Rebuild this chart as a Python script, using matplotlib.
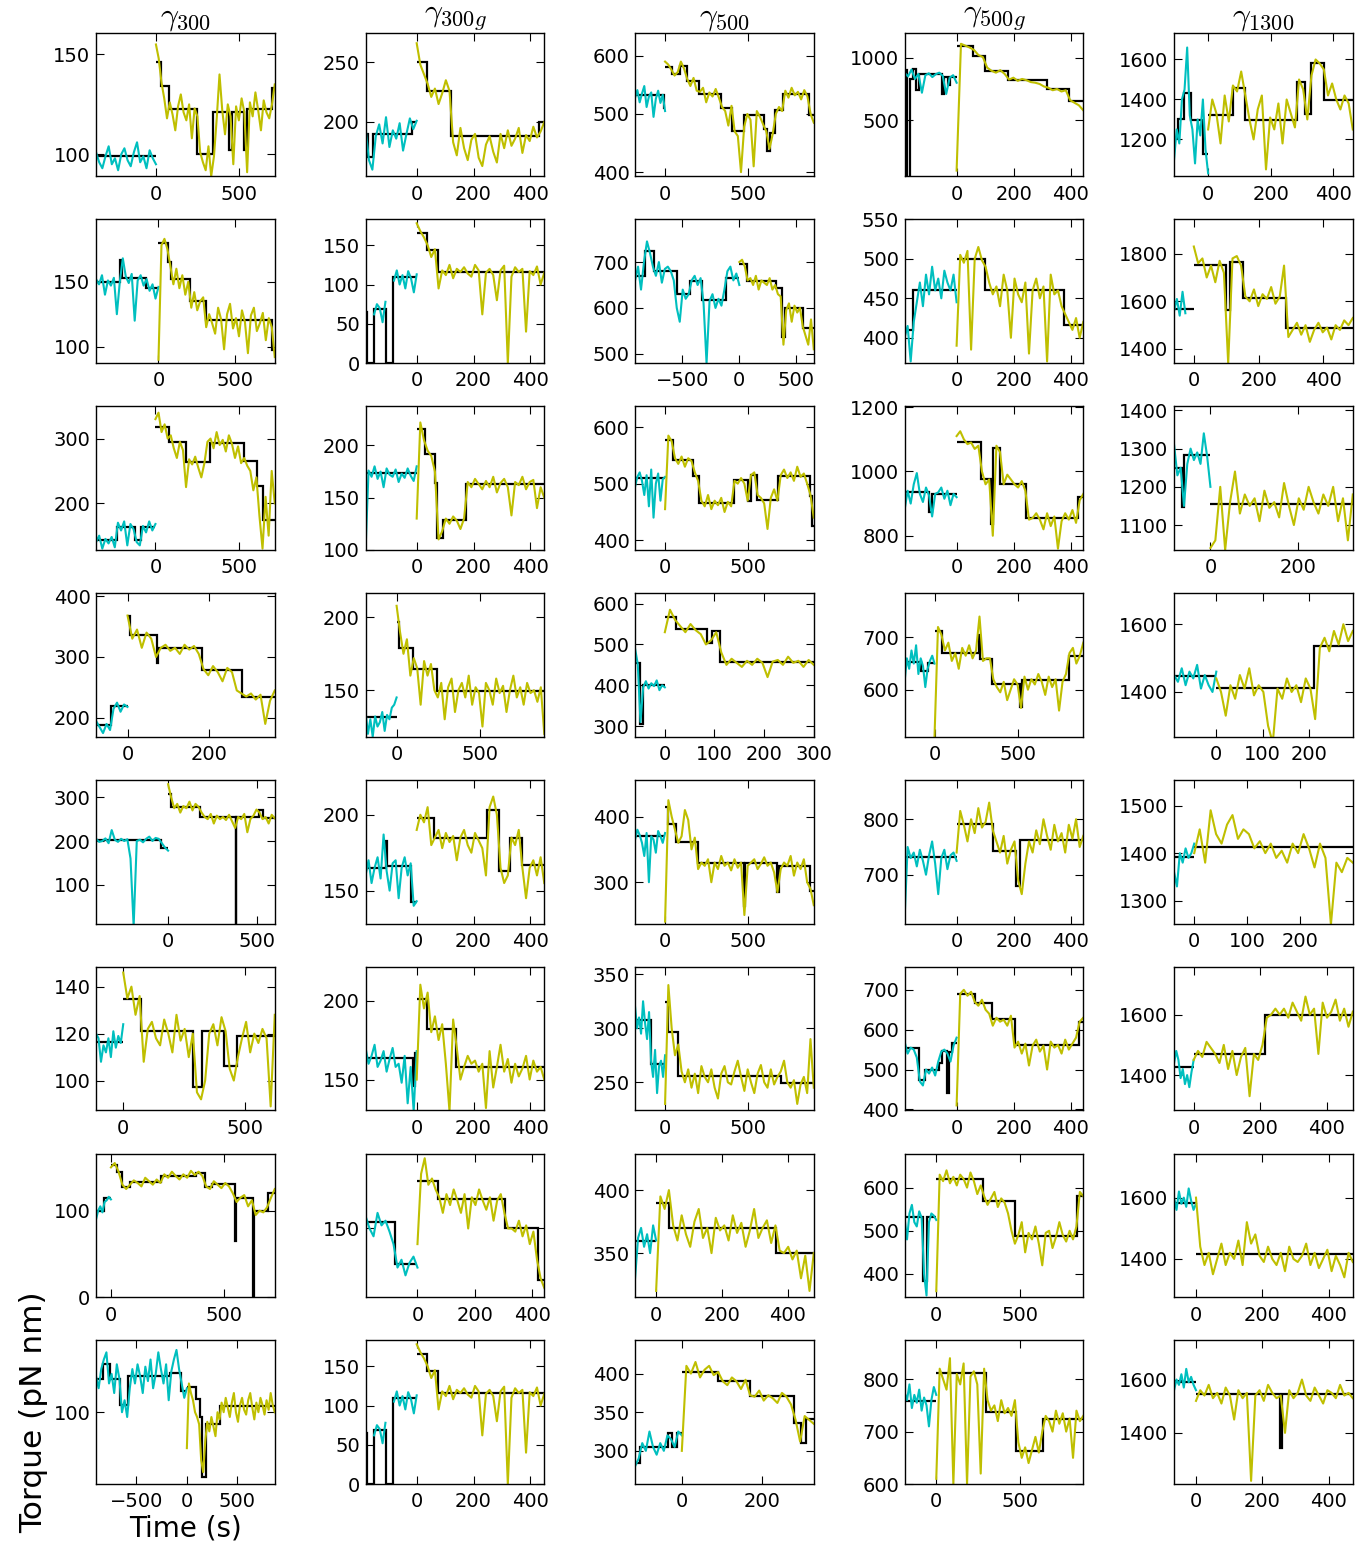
import numpy as np
import matplotlib
matplotlib.use("Agg")
import matplotlib.pyplot as plt

nan = np.nan

titles = [r"$\gamma_{300}$", r"$\gamma_{300g}$", r"$\gamma_{500}$", r"$\gamma_{500g}$", r"$\gamma_{1300}$"]

# Per panel: step-fit edges/levels and torque trace, before (pre) and after (post) t = 0.
# Trace samples are evenly spread between the first and last fit edge.

# ---------- row 1 ----------
r1c1_pre_edges = [-359, 0]
r1c1_pre_levels = [99]
r1c1_pre_trace = [101, 96, 93, 99, 104, 95, 98, 92, 100, 103, 97, 94, 101, 106, 96, 99, 93, 102, 98, 95]
r1c1_post_edges = [0, 29, 79, 249, 340, 437, 458, 526, 545, 694, 712]
r1c1_post_levels = [146, 134, 122.5, 100, 121, 102, 121, 102, 122.5, 133]
r1c1_post_trace = [155, 148, 136, 128, 118, 126, 120, 112, 124, 130, 121, 117, 125, 108, 123, 119, 101, 96, 92, 104,
                   89, 99, 118, 140, 122, 110, 125, 119, 95, 124, 117, 128, 121, 91, 126, 119, 131, 122, 112, 127,
                   121, 118, 125, 135]

r1c2_pre_edges = [-180, -171, -155, -17, 0]
r1c2_pre_levels = [190, 171, 189.6, 200]
r1c2_pre_trace = [195, 168, 160, 188, 198, 182, 204, 179, 193, 186, 199, 176, 190, 203, 194, 201]
r1c2_post_edges = [0, 35, 121, 429, 449]
r1c2_post_levels = [250, 226, 188, 200]
r1c2_post_trace = [266, 248, 240, 232, 221, 228, 215, 224, 235, 226, 183, 172, 195, 178, 168, 185, 190, 170, 163, 181,
                   188, 175, 166, 190, 178, 193, 180, 186, 195, 174, 189, 184, 196, 187, 192, 200]

r1c3_pre_edges = [-180, -8, 0]
r1c3_pre_levels = [532, 510]
r1c3_pre_trace = [528, 541, 520, 535, 548, 512, 530, 537, 495, 526, 540, 519, 533, 505]
r1c3_post_edges = [0, 42, 90, 133, 204, 336, 402, 476, 596, 614, 632, 660, 707, 861, 892]
r1c3_post_levels = [580, 569, 583, 557, 534, 510, 471, 498, 475, 436, 468, 507, 535, 498]
r1c3_post_trace = [590, 585, 576, 566, 572, 590, 578, 560, 548, 562, 540, 538, 545, 520, 537, 530, 543, 528, 512, 505,
                   480, 514, 470, 462, 400, 478, 500, 490, 410, 505, 495, 482, 470, 440, 465, 500, 512, 505, 540, 528,
                   545, 532, 538, 525, 541, 530, 500, 485]

r1c4_pre_edges = [-182, -172, -162, -151, -142, -131, -51, -43, -31, -23, 0]
r1c4_pre_levels = [899, 0, 833, 912, 740, 867, 713, 846, 780, 846]
r1c4_pre_trace = [880, 850, 905, 830, 870, 720, 860, 875, 845, 868, 880, 855, 710, 840, 860, 800]
r1c4_post_edges = [0, 57, 100, 180, 315, 392, 443]
r1c4_post_levels = [1090, 1013, 893, 824, 747, 654]
r1c4_post_trace = [100, 1110, 1095, 1080, 1060, 1020, 1005, 920, 895, 880, 900, 870, 825, 840, 815, 830, 820, 805, 800,
                   790, 770, 760, 740, 750, 730, 740, 660, 640, 620, 580]

r1c5_pre_edges = [-109, -98, -77, -56, -17, 0]
r1c5_pre_levels = [1207, 1304, 1433, 1299, 1125]
r1c5_pre_trace = [1100, 1250, 1180, 1400, 1450, 1660, 1320, 1250, 1080, 1300, 1220, 1400, 1150, 1030]
r1c5_post_edges = [0, 80, 119, 283, 309, 330, 372, 463]
r1c5_post_levels = [1320, 1455, 1299, 1488, 1329, 1580, 1397]
r1c5_post_trace = [1250, 1400, 1330, 1180, 1420, 1290, 1470, 1440, 1540, 1420, 1300, 1200, 1350, 1420, 1050, 1310,
                   1250, 1380, 1180, 1400, 1330, 1260, 1500, 1450, 1300, 1520, 1600, 1580, 1550, 1420, 1480, 1400,
                   1350, 1420, 1380, 1250]

# ---------- row 2 ----------
r2c1_pre_edges = [-406, -253, -236, -80, 0]
r2c1_pre_levels = [150, 167, 152.6, 144.9]
r2c1_pre_trace = [152, 148, 155, 140, 151, 147, 153, 125, 150, 168, 154, 149, 156, 120, 151, 155, 147, 152, 143, 148,
                  137, 146]
r2c1_post_edges = [0, 62, 82, 202, 310, 736, 756]
r2c1_post_levels = [180, 165, 152, 135, 120.5, 97.4]
r2c1_post_trace = [90, 178, 183, 175, 162, 148, 160, 145, 155, 140, 150, 130, 142, 128, 135, 138, 115, 125, 118, 110,
                   130, 121, 98, 125, 133, 114, 122, 108, 128, 119, 95, 124, 130, 112, 118, 126, 105, 122, 115, 92]

r2c2_pre_edges = [-180, -174, -151, -108, -83, 0]
r2c2_pre_levels = [65, 0, 68.6, 0, 109.7]
r2c2_pre_trace = [nan, nan, nan, 62, 75, 70, 52, 78, nan, nan, 105, 118, 100, 112, 95, 117, 108, 90, 113]
r2c2_post_edges = [0, 37, 75, 449]
r2c2_post_levels = [166, 143.6, 116]
r2c2_post_trace = [178, 168, 160, 150, 135, 145, 95, 118, 112, 125, 108, 120, 116, 122, 114, 110, 125, 118, 62, 115,
                   120, 112, 80, 118, 124, 0, 110, 122, 116, 120, 40, 117, 112, 123, 100, 115]

r2c3_pre_edges = [-913, -827, -750, -550, -434, -327, -115, 0]
r2c3_pre_levels = [669, 724, 680, 631, 659, 617, 666]
r2c3_pre_trace = [660, 690, 640, 700, 745, 720, 690, 670, 700, 655, 685, 690, 680, 660, 600, 570, 640, 620, 630, 660,
                  670, 650, 665, 610, 480, 615, 630, 600, 620, 605, 640, 680, 690, 660, 675, 650]
r2c3_post_edges = [0, 65, 319, 377, 396, 558, 652]
r2c3_post_levels = [695, 658, 644, 536, 600, 556]
r2c3_post_trace = [700, 705, 690, 660, 665, 650, 670, 640, 660, 655, 650, 665, 640, 650, 630, 625, 520, 595, 610, 570,
                   605, 590, 600, 560, 540, 520, 575, 510]

r2c4_pre_edges = [-182, -154, 0]
r2c4_pre_levels = [410, 461]
r2c4_pre_trace = [400, 415, 370, 420, 445, 470, 440, 480, 455, 490, 460, 475, 450, 485, 470, 460, 480, 445]
r2c4_post_edges = [0, 100, 374, 443]
r2c4_post_levels = [500, 461, 416.6]
r2c4_post_trace = [390, 505, 495, 510, 385, 500, 515, 498, 490, 470, 455, 465, 440, 480, 460, 400, 475, 455, 445, 470,
                   380, 460, 475, 450, 465, 370, 480, 455, 460, 440, 430, 420, 410, 425, 400, 420]

r2c5_pre_edges = [-61, 0]
r2c5_pre_levels = [1569]
r2c5_pre_trace = [1560, 1610, 1540, 1640, 1550, nan, nan, nan]
r2c5_post_edges = [0, 99, 112, 153, 284, 491]
r2c5_post_levels = [1754, 1563, 1765, 1614, 1489]
r2c5_post_trace = [1830, 1760, 1780, 1700, 1750, 1680, 1770, 1720, 1340, 1780, 1790, 1750, 1620, 1600, 1650, 1580,
                   1630, 1610, 1660, 1590, 1620, 1750, 1450, 1480, 1510, 1460, 1500, 1430, 1480, 1510, 1470, 1490,
                   1440, 1500, 1480, 1520, 1500, 1530]

# ---------- row 3 ----------
r3c1_pre_edges = [-356, -233, -123, -84, 0]
r3c1_pre_levels = [143.6, 164, 142.6, 162.6]
r3c1_pre_trace = [140, 150, 130, 145, 138, 148, 132, 170, 158, 172, 135, 168, 160, 140, 135, 165, 155, 172, 158, 168]
r3c1_post_edges = [0, 81, 181, 325, 529, 610, 644, 715]
r3c1_post_levels = [318, 294, 264, 293.8, 265, 226.7, 174]
r3c1_post_trace = [330, 340, 310, 322, 300, 305, 285, 270, 295, 282, 225, 268, 260, 272, 255, 240, 262, 295, 300, 285,
                   310, 290, 298, 280, 305, 292, 270, 288, 262, 270, 258, 250, 220, 240, 180, 130, 210, 150, 250, 200]

r3c2_pre_edges = [-180, 0]
r3c2_pre_levels = [174]
r3c2_pre_trace = [100, 176, 170, 180, 168, 175, 160, 178, 172, 170, 177, 165, 173, 169, 178, 171, 166, 180]
r3c2_post_edges = [0, 29, 66, 72, 91, 172, 449]
r3c2_post_levels = [216, 192, 164, 111, 129, 163.4]
r3c2_post_trace = [130, 222, 205, 195, 190, 175, 110, 118, 130, 125, 132, 128, 120, 130, 165, 160, 168, 163, 158, 166,
                   160, 170, 155, 164, 168, 160, 133, 165, 162, 170, 158, 165, 167, 140, 160, 150]

r3c3_pre_edges = [-180, 0]
r3c3_pre_levels = [510]
r3c3_pre_trace = [495, 512, 520, 505, 480, 515, 460, 525, 440, 500, 518, 470, 508, 512]
r3c3_post_edges = [0, 45, 166, 202, 413, 500, 513, 553, 676, 868, 881, 892]
r3c3_post_levels = [578, 541, 513, 466, 507, 470, 515, 472, 514, 479, 426]
r3c3_post_trace = [455, 585, 575, 545, 535, 548, 530, 545, 540, 520, 505, 470, 460, 480, 455, 470, 462, 475, 450, 468,
                   460, 505, 500, 510, 500, 470, 515, 520, 480, 475, 465, 420, 475, 490, 470, 515, 525, 510, 520, 505,
                   530, 512, 518, 500, 480, 440]

r3c4_pre_edges = [-182, -95, -85, 0]
r3c4_pre_levels = [935, 875, 929]
r3c4_pre_trace = [880, 940, 900, 960, 995, 930, 905, 950, 925, 860, 930, 935, 950, 915, 940, 895, 930, 920]
r3c4_post_edges = [0, 85, 120, 128, 151, 242, 423, 443]
r3c4_post_levels = [1091, 975, 838, 1073, 962, 854, 919]
r3c4_post_trace = [1110, 1125, 1100, 1085, 1090, 1070, 1080, 1000, 960, 975, 800, 1080, 1060, 960, 990, 975, 960, 950,
                   970, 940, 850, 855, 870, 850, 820, 870, 830, 860, 760, 845, 870, 850, 880, 840, 910, 930]

r3c5_pre_edges = [-83, -65, -60, 0]
r3c5_pre_levels = [1248, 1148, 1283]
r3c5_pre_trace = [1310, 1230, 1250, 1150, 1260, 1300, 1270, 1290, 1260, 1340, 1280, 1200]
r3c5_post_edges = [0, 325]
r3c5_post_levels = [1156]
r3c5_post_trace = [1040, 1060, 1200, 1035, 1160, 1240, 1130, 1180, 1150, 1170, 1110, 1190, 1145, 1160, 1120, 1210,
                   1150, 1100, 1170, 1140, 1200, 1160, 1130, 1180, 1150, 1200, 1110, 1170, 1060, 1180]

# ---------- row 4 ----------
r4c1_pre_edges = [-77, -41, 0]
r4c1_pre_levels = [188, 219]
r4c1_pre_trace = [195, 185, 175, 190, 180, 215, 225, 210, 222, 218]
r4c1_post_edges = [0, 5, 72, 75, 182, 280, 360]
r4c1_post_levels = [368, 336, 290, 315, 279, 235]
r4c1_post_trace = [368, 330, 345, 315, 340, 330, 300, 315, 320, 310, 315, 305, 320, 312, 318, 305, 280, 270, 285, 275,
                   260, 282, 275, 245, 240, 235, 240, 230, 238, 190, 228, 245]

r4c2_pre_edges = [-187, 0]
r4c2_pre_levels = [131.6]
r4c2_pre_trace = [135, 120, 130, 118, 132, 125, 128, 135, 122, 133, 130, 138, 140, 145]
r4c2_post_edges = [0, 13, 97, 242, 889]
r4c2_post_levels = [197, 179.3, 164.8, 149.3]
r4c2_post_trace = [208, 190, 175, 185, 160, 172, 165, 140, 170, 160, 168, 150, 145, 155, 130, 152, 158, 135, 150, 155,
                   145, 160, 140, 152, 148, 125, 155, 150, 140, 158, 148, 153, 135, 150, 160, 145, 152, 140, 155, 148,
                   150, 142, 152, 120]

r4c3_pre_edges = [-60, -50, -44, 0]
r4c3_pre_levels = [454, 306, 400]
r4c3_pre_trace = [490, 452, 310, 395, 410, 392, 405, 398, 412, 388, 400, 395]
r4c3_post_edges = [0, 22, 84, 95, 111, 300]
r4c3_post_levels = [568, 539, 503, 534, 456]
r4c3_post_trace = [530, 585, 560, 545, 530, 550, 535, 525, 500, 510, 530, 480, 450, 465, 455, 445, 460, 450, 465, 455,
                   420, 458, 462, 450, 470, 455, 460, 445, 462, 450]

r4c4_pre_edges = [-179, -79, -39, 0]
r4c4_pre_levels = [653.8, 636, 650.6]
r4c4_pre_trace = [615, 660, 640, 675, 650, 685, 630, 660, 645, 605, 640, 655, 665, 650]
r4c4_post_edges = [0, 47, 263, 271, 342, 513, 521, 803, 889]
r4c4_post_levels = [712, 669.6, 704, 659, 611, 566, 619, 664.6]
r4c4_post_trace = [510, 720, 705, 675, 690, 655, 670, 640, 680, 665, 685, 660, 675, 740, 655, 660, 660, 620, 605, 595,
                   615, 580, 600, 620, 610, 565, 625, 600, 620, 610, 630, 615, 590, 625, 605, 620, 560, 615, 630, 670,
                   680, 650, 665, 690]

r4c5_pre_edges = [-91, 0]
r4c5_pre_levels = [1446]
r4c5_pre_trace = [1450, 1430, 1470, 1420, 1460, 1440, 1480, 1410, 1450, 1420, 1400, 1460]
r4c5_post_edges = [0, 211, 294]
r4c5_post_levels = [1412, 1536]
r4c5_post_trace = [1440, 1400, 1330, 1420, 1380, 1450, 1410, 1470, 1390, 1420, 1400, 1300, 1250, 1410, 1380, 1440,
                   1400, 1420, 1370, 1440, 1410, 1320, 1530, 1560, 1520, 1580, 1540, 1600, 1550, 1580]

# ---------- row 5 ----------
r5c1_pre_edges = [-404, -37, 0]
r5c1_pre_levels = [203, 183]
r5c1_pre_trace = [205, 198, 200, 206, 195, 225, 203, 198, 205, 200, 204, 160, 5, 200, 203, 197, 205, 210, 200, 207,
                  205, 195, 185, 178]
r5c1_post_edges = [0, 17, 181, 380, 382, 507, 532, 598]
r5c1_post_levels = [307.6, 278.7, 254, 0, 254, 272, 253]
r5c1_post_trace = [330, 300, 275, 285, 265, 280, 275, 290, 270, 285, 278, 265, 255, 250, 262, 240, 258, 250, 255, 248,
                   260, 245, 230, 255, 250, 262, 220, 250, 258, 272, 265, 250, 255, 240, 260, 252]

r5c2_pre_edges = [-180, -109, -105, -20, 0]
r5c2_pre_levels = [165, 182.5, 166, 142.5]
r5c2_pre_trace = [160, 170, 155, 165, 172, 158, 187, 163, 150, 168, 170, 145, 165, 172, 160, 168, 140, 143]
r5c2_post_edges = [0, 60, 249, 288, 329, 372, 449]
r5c2_post_levels = [197.8, 184.6, 202.9, 163.2, 185, 167]
r5c2_post_trace = [190, 200, 195, 205, 180, 185, 190, 178, 188, 182, 186, 170, 185, 190, 180, 175, 188, 183, 178, 160,
                   205, 212, 200, 165, 155, 160, 185, 180, 190, 165, 145, 165, 170, 160, 172, 155]

r5c3_pre_edges = [-180, 0]
r5c3_pre_levels = [371]
r5c3_pre_trace = [365, 380, 372, 360, 340, 375, 300, 370, 365, 345, 378, 370, 360, 375]
r5c3_post_edges = [0, 18, 66, 197, 474, 481, 671, 685, 868, 892]
r5c3_post_levels = [415, 388, 362, 329.4, 263.5, 330, 285, 325, 287]
r5c3_post_trace = [240, 425, 400, 380, 360, 370, 410, 395, 350, 368, 320, 330, 325, 335, 300, 330, 320, 340, 325, 330,
                   318, 335, 322, 330, 250, 325, 330, 335, 320, 328, 338, 325, 330, 315, 285, 320, 330, 325, 340, 310,
                   330, 320, 335, 300, 290, 265]

r5c4_pre_edges = [-182, 0]
r5c4_pre_levels = [731.7]
r5c4_pre_trace = [620, 750, 730, 740, 715, 745, 725, 700, 735, 760, 720, 665, 730, 745, 710, 735, 740, 725]
r5c4_post_edges = [0, 128, 208, 223, 443]
r5c4_post_levels = [791.6, 743, 679, 763]
r5c4_post_trace = [740, 815, 790, 760, 800, 775, 820, 785, 795, 830, 780, 760, 740, 770, 720, 745, 760, 690, 665, 720,
                   760, 740, 780, 755, 800, 770, 745, 790, 760, 775, 740, 790, 765, 800, 750, 770]

r5c5_pre_edges = [-38, 0]
r5c5_pre_levels = [1391]
r5c5_pre_trace = [1360, 1330, 1400, 1380, 1410, 1390, 1400, 1420]
r5c5_post_edges = [0, 299]
r5c5_post_levels = [1413]
r5c5_post_trace = [1400, 1450, 1380, 1490, 1440, 1420, 1460, 1480, 1430, 1450, 1440, 1410, 1425, 1400, 1420, 1390,
                   1405, 1380, 1420, 1400, 1440, 1410, 1370, 1420, 1390, 1250, 1380, 1360, 1390, 1380]

# ---------- row 6 ----------
r6c1_pre_edges = [-112, 0]
r6c1_pre_levels = [116.3]
r6c1_pre_trace = [120, 118, 108, 115, 112, 118, 110, 121, 114, 119, 116, 124]
r6c1_post_edges = [0, 72, 288, 324, 414, 468, 624]
r6c1_post_levels = [134.8, 121, 97.2, 121, 106, 119.1]
r6c1_post_trace = [146, 135, 140, 128, 136, 108, 122, 125, 118, 115, 126, 120, 112, 128, 117, 122, 110, 120, 95, 92,
                   100, 120, 124, 115, 127, 121, 105, 100, 110, 118, 125, 112, 120, 116, 122, 118, 89, 128]

r6c2_pre_edges = [-180, -12, -6, 0]
r6c2_pre_levels = [163.7, 146, 167]
r6c2_pre_trace = [170, 160, 165, 172, 158, 162, 168, 155, 163, 170, 158, 160, 148, 165, 135, 158, 130, 168]
r6c2_post_edges = [0, 37, 137, 449]
r6c2_post_levels = [200.8, 182, 157.8]
r6c2_post_trace = [150, 210, 195, 205, 180, 190, 175, 185, 160, 130, 188, 170, 150, 158, 165, 160, 162, 155, 160, 132,
                   168, 145, 158, 172, 155, 163, 148, 160, 152, 157, 165, 150, 162, 155, 158, 150]

r6c3_pre_edges = [-180, -87, 0]
r6c3_pre_levels = [307.7, 266.9]
r6c3_pre_trace = [320, 300, 310, 295, 325, 305, 290, 315, 270, 255, 280, 240, 265, 270, 255, 275]
r6c3_post_edges = [0, 18, 77, 696, 892]
r6c3_post_levels = [324, 297, 255.5, 249.4]
r6c3_post_trace = [230, 340, 300, 275, 285, 260, 250, 262, 245, 258, 240, 265, 255, 250, 262, 245, 235, 258, 265, 250,
                   248, 260, 270, 255, 242, 262, 250, 240, 258, 266, 250, 245, 262, 248, 255, 260, 270, 250, 245, 252,
                   230, 248, 255, 240, 290, 245]

r6c4_pre_edges = [-182, -131, -111, -62, -51, -34, -26, -15, 0]
r6c4_pre_levels = [554, 473, 498, 517, 546, 440, 543, 567]
r6c4_pre_trace = [570, 540, 555, 550, 530, 470, 460, 500, 490, 505, 485, 520, 545, 550, 540, 520, 560, 580]
r6c4_post_edges = [0, 66, 123, 205, 428, 443]
r6c4_post_levels = [689, 666.7, 627, 561, 619]
r6c4_post_trace = [410, 690, 700, 685, 695, 670, 660, 675, 650, 640, 610, 630, 620, 625, 610, 635, 555, 570, 540, 565,
                   510, 560, 575, 545, 560, 500, 570, 555, 562, 540, 575, 550, 565, 580, 620, 630]

r6c5_pre_edges = [-59, 0]
r6c5_pre_levels = [1426]
r6c5_pre_trace = [1440, 1480, 1450, 1390, 1420, 1370, 1400, 1360, 1410, 1450]
r6c5_post_edges = [0, 215, 479]
r6c5_post_levels = [1470, 1598]
r6c5_post_trace = [1450, 1480, 1460, 1510, 1490, 1470, 1440, 1500, 1420, 1480, 1400, 1460, 1490, 1330, 1470, 1450,
                   1500, 1590, 1600, 1620, 1600, 1620, 1590, 1640, 1610, 1580, 1660, 1600, 1620, 1470, 1640, 1590,
                   1610, 1650, 1580, 1620, 1560, 1610]

# ---------- row 7 ----------
r7c1_pre_edges = [-66, -30, 0]
r7c1_pre_levels = [100, 115]
r7c1_pre_trace = [90, 100, 105, 98, 110, 112, 116, 113]
r7c1_post_edges = [0, 27, 49, 84, 221, 376, 416, 447, 549, 556, 628, 632, 695, 726]
r7c1_post_levels = [153, 145, 127, 133, 140, 143, 127, 131, 65, 115, 0, 100, 120]
r7c1_post_trace = [150, 155, 145, 130, 125, 130, 135, 132, 128, 138, 134, 130, 136, 132, 142, 138, 145, 140, 136, 142,
                   138, 146, 141, 145, 140, 128, 125, 134, 130, 126, 132, 128, 120, 110, 115, 118, 105, 112, 95, 100,
                   98, 104, 115, 125]

r7c2_pre_edges = [-181, -77, 0]
r7c2_pre_levels = [154, 127.4]
r7c2_pre_trace = [158, 150, 145, 160, 152, 155, 148, 140, 125, 130, 120, 128, 132, 125]
r7c2_post_edges = [0, 70, 305, 420, 442]
r7c2_post_levels = [180.3, 168.7, 150, 117]
r7c2_post_trace = [140, 185, 195, 178, 182, 175, 170, 160, 172, 165, 175, 168, 160, 172, 150, 170, 165, 175, 168, 162,
                   170, 155, 168, 172, 160, 150, 150, 148, 155, 145, 152, 140, 148, 130, 118, 112]

r7c3_pre_edges = [-64, 0]
r7c3_pre_levels = [360]
r7c3_pre_trace = [330, 362, 370, 355, 365, 350, 372, 360]
r7c3_post_edges = [0, 40, 365, 479]
r7c3_post_levels = [389.7, 370, 350]
r7c3_post_trace = [320, 395, 385, 400, 372, 360, 380, 365, 355, 375, 385, 362, 370, 350, 378, 368, 372, 360, 380, 366,
                   374, 355, 368, 385, 362, 370, 376, 358, 372, 352, 350, 355, 345, 352, 330, 348, 320, 350]

r7c4_pre_edges = [-190, -80, -55, 0]
r7c4_pre_levels = [532, 384, 532]
r7c4_pre_trace = [530, 480, 540, 560, 520, 510, 545, 530, 400, 350, 520, 540, 535, 525]
r7c4_post_edges = [0, 280, 470, 845, 881]
r7c4_post_levels = [619, 570, 488, 581]
r7c4_post_trace = [360, 630, 615, 640, 610, 625, 605, 630, 620, 600, 635, 615, 585, 605, 580, 560, 575, 590, 555, 575,
                   565, 540, 500, 470, 490, 520, 450, 495, 480, 510, 470, 420, 495, 500, 460, 485, 520, 490, 475, 500,
                   480, 510, 590, 580]

r7c5_pre_edges = [-66, 0]
r7c5_pre_levels = [1584]
r7c5_pre_trace = [1600, 1560, 1620, 1580, 1600, 1570, 1630, 1590, 1560, 1580]
r7c5_post_edges = [0, 472]
r7c5_post_levels = [1416]
r7c5_post_trace = [1600, 1440, 1380, 1420, 1350, 1400, 1450, 1380, 1420, 1400, 1460, 1380, 1520, 1450, 1480, 1410,
                   1390, 1440, 1400, 1380, 1420, 1360, 1440, 1400, 1390, 1410, 1450, 1380, 1420, 1370, 1400, 1430,
                   1360, 1410, 1380, 1340, 1420, 1390]

# ---------- row 8 ----------
r8c1_pre_edges = [-900, -830, -760, -660, -585, -170, -60, 0]
r8c1_pre_levels = [114, 120, 114, 103, 115, 116.5, 109]
r8c1_pre_trace = [115, 110, 118, 122, 125, 112, 116, 108, 120, 114, 100, 105, 98, 110, 118, 112, 120, 115, 108, 119,
                  113, 122, 110, 116, 125, 118, 112, 120, 105, 117, 122, 126, 118, 112, 106, 110]
r8c1_post_edges = [0, 90, 130, 150, 190, 330, 871]
r8c1_post_levels = [110.5, 105.5, 98, 73, 95, 102.5]
r8c1_post_trace = [85, 112, 108, 105, 100, 98, 95, 80, 75, 88, 96, 92, 98, 94, 90, 100, 97, 104, 100, 106, 102, 98,
                   104, 108, 100, 96, 103, 106, 101, 99, 105, 108, 102, 97, 104, 100, 106, 103, 99, 105, 101, 108,
                   103, 100]

# same molecule as row 2 of this column
r8c2_pre_edges = r2c2_pre_edges
r8c2_pre_levels = r2c2_pre_levels
r8c2_pre_trace = r2c2_pre_trace
r8c2_post_edges = r2c2_post_edges
r8c2_post_levels = r2c2_post_levels
r8c2_post_trace = r2c2_post_trace

r8c3_pre_edges = [-117, -105, -35, -25, -12, 0]
r8c3_pre_levels = [284, 305, 323, 305, 323]
r8c3_pre_trace = [280, 290, 310, 300, 325, 305, 295, 310, 300, 320, 315, 305, 325, 320]
r8c3_post_edges = [0, 90, 170, 280, 298, 310, 330]
r8c3_post_levels = [402, 390, 371, 336, 310, 341]
r8c3_post_trace = [300, 410, 400, 415, 395, 405, 410, 398, 402, 390, 385, 395, 390, 380, 392, 372, 370, 378, 365, 372,
                   368, 362, 375, 370, 360, 340, 312, 345, 340, 335]

r8c4_pre_edges = [-190, 0]
r8c4_pre_levels = [758]
r8c4_pre_trace = [775, 760, 790, 745, 770, 755, 780, 740, 765, 750, 710, 760, 785, 770]
r8c4_post_edges = [0, 300, 480, 640, 881]
r8c4_post_levels = [811, 737, 663, 724]
r8c4_post_trace = [610, 820, 800, 780, 840, 600, 810, 790, 830, 600, 805, 815, 790, 620, 820, 760, 740, 750, 720, 760,
                   735, 745, 730, 760, 680, 650, 670, 640, 665, 690, 660, 700, 730, 720, 700, 740, 715, 735, 700, 725,
                   650, 740, 720, 730]

r8c5_pre_edges = [-66, 0]
r8c5_pre_levels = [1589]
r8c5_pre_trace = [1560, 1600, 1580, 1620, 1570, 1640, 1590, 1610, 1580, 1560]
r8c5_post_edges = [0, 253, 259, 472]
r8c5_post_levels = [1547, 1343, 1547]
r8c5_post_trace = [1520, 1560, 1540, 1580, 1530, 1550, 1510, 1570, 1540, 1450, 1560, 1530, 1550, 1220, 1540, 1560,
                   1520, 1580, 1550, 1530, 1540, 1400, 1560, 1530, 1550, 1600, 1540, 1520, 1570, 1540, 1510, 1560,
                   1550, 1530, 1580, 1540, 1550, 1530]

# axis window per panel: (xlim, ylim, xticks, yticks)
windows = {
    (1, 1): ((-359, 712), (89, 161), [0, 500], [100, 150]),
    (1, 2): ((-180, 449), (154.5, 275), [0, 200, 400], [200, 250]),
    (1, 3): ((-180, 892), (393, 640), [0, 500], [400, 500, 600]),
    (1, 4): ((-182, 443), (55, 1200), [0, 200, 400], [500, 1000]),
    (1, 5): ((-109, 463), (1016, 1735), [0, 200, 400], [1200, 1400, 1600]),
    (2, 1): ((-406, 756), (87.4, 198), [0, 500], [100, 150]),
    (2, 2): ((-180, 449), (0, 183), [0, 200, 400], [0, 50, 100, 150]),
    (2, 3): ((-913, 652), (480, 793), [-500, 0, 500], [500, 600, 700]),
    (2, 4): ((-182, 443), (368, 550), [0, 200, 400], [400, 450, 500, 550]),
    (2, 5): ((-61, 491), (1341, 1944), [0, 200, 400], [1400, 1600, 1800]),
    (3, 1): ((-356, 715), (128, 350), [0, 500], [200, 300]),
    (3, 2): ((-180, 449), (100, 237.6), [0, 200, 400], [100, 150, 200]),
    (3, 3): ((-180, 892), (383, 637), [0, 500], [400, 500, 600]),
    (3, 4): ((-182, 443), (756, 1203), [0, 200, 400], [800, 1000, 1200]),
    (3, 5): ((-83, 325), (1035, 1411), [0, 200], [1100, 1200, 1300, 1400]),
    (4, 1): ((-77, 360), (169, 405), [0, 200], [200, 300, 400]),
    (4, 2): ((-187, 889), (118, 216.8), [0, 500], [150, 200]),
    (4, 3): ((-60, 300), (274, 626), [0, 100, 200, 300], [300, 400, 500, 600]),
    (4, 4): ((-179, 889), (510, 785), [0, 500], [600, 700]),
    (4, 5): ((-91, 294), (1268, 1692), [0, 100, 200], [1400, 1600]),
    (5, 1): ((-404, 598), (11, 340), [0, 500], [100, 200, 300]),
    (5, 2): ((-180, 449), (128.3, 223), [0, 200, 400], [150, 200]),
    (5, 3): ((-180, 892), (237, 456), [0, 500], [300, 400]),
    (5, 4): ((-182, 443), (612, 871), [0, 200, 400], [700, 800]),
    (5, 5): ((-38, 299), (1252, 1554), [0, 100, 200], [1300, 1400, 1500]),
    (6, 1): ((-112, 624), (87.3, 148.5), [0, 500], [100, 120, 140]),
    (6, 2): ((-180, 449), (130.5, 221.4), [0, 200, 400], [150, 200]),
    (6, 3): ((-180, 892), (224, 357), [0, 500], [250, 300, 350]),
    (6, 4): ((-182, 443), (397.5, 758), [0, 200, 400], [400, 500, 600, 700]),
    (6, 5): ((-59, 479), (1283, 1759), [0, 200, 400], [1400, 1600]),
    (7, 1): ((-66, 726), (0, 166), [0, 500], [0, 100]),
    (7, 2): ((-181, 442), (106, 198), [0, 200, 400], [150]),
    (7, 3): ((-64, 479), (315, 429), [0, 200, 400], [350, 400]),
    (7, 4): ((-190, 881), (346, 679), [0, 500], [400, 500, 600]),
    (7, 5): ((-66, 472), (1275, 1744), [0, 200, 400], [1400, 1600]),
    (8, 1): ((-900, 871), (70, 130), [-500, 0, 500], [100]),
    (8, 2): ((-180, 449), (0, 183), [0, 200, 400], [0, 50, 100, 150]),
    (8, 3): ((-117, 330), (257, 443), [0, 200], [300, 350, 400]),
    (8, 4): ((-190, 881), (600, 874), [0, 500], [600, 700, 800]),
    (8, 5): ((-66, 472), (1208, 1747), [0, 200, 400], [1400, 1600]),
}

plt.rcParams.update({
    "mathtext.fontset": "cm",
    "font.family": "DejaVu Sans",
    "xtick.direction": "in",
    "ytick.direction": "in",
    "xtick.top": True,
    "ytick.right": True,
    "xtick.major.size": 6,
    "ytick.major.size": 6,
    "xtick.major.pad": 6,
    "ytick.major.pad": 4,
    "xtick.labelsize": 14,
    "ytick.labelsize": 14,
    "axes.linewidth": 1.0,
})

fig, axs = plt.subplots(8, 5, figsize=(13.72, 15.48), dpi=100)
fig.subplots_adjust(left=0.070, right=0.986, top=0.979, bottom=0.0413, wspace=0.508, hspace=0.30)

g = globals()
for r in range(1, 9):
    for c in range(1, 6):
        ax = axs[r - 1, c - 1]
        key = f"r{r}c{c}"
        fits = []
        for part, col in (("pre", "c"), ("post", "y")):
            edges = g[f"{key}_{part}_edges"]
            levels = g[f"{key}_{part}_levels"]
            trace = g[f"{key}_{part}_trace"]
            t = np.linspace(edges[0], edges[-1], len(trace))
            ax.plot(t, trace, color=col, lw=1.5)
            fits.append((edges, levels))
        for edges, levels in fits:
            ax.stairs(levels, edges, baseline=None, color="k", lw=1.6)
        xlim, ylim, xt, yt = windows[(r, c)]
        ax.set_xlim(xlim)
        ax.set_ylim(ylim)
        ax.set_xticks(xt)
        ax.set_yticks(yt)
        if r == 1:
            ax.set_title(titles[c - 1], fontsize=23, pad=1)

axs[7, 0].set_xlabel("Time (s)", fontsize=20, labelpad=2)
axs[7, 0].set_ylabel("Torque (pN nm)", fontsize=22.5, labelpad=4)

fig.savefig("out.png", dpi=100)
